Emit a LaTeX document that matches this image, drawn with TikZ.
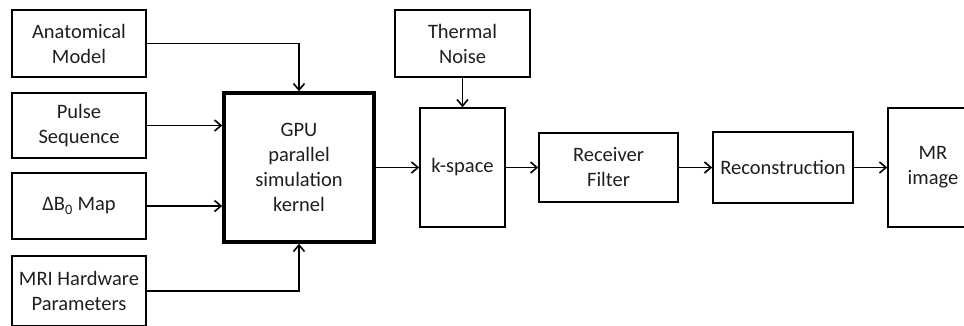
\documentclass[tikz,border=0pt]{standalone}
\usepackage{fontspec}
\setmainfont{Carlito}
\usetikzlibrary{arrows.meta}

\begin{document}
\begin{tikzpicture}[x=1pt,y=-1pt,font=\fontsize{20.5}{25}\selectfont,line width=1.6pt,
    blk/.style={draw,inner sep=0pt,align=center,text=black!88},
    >={Straight Barb[length=6.5pt,width=11pt]}]
  \useasboundingbox (0,0) rectangle (964,325);
  % inputs on the left
  \foreach \n/\y/\h/\txt in {anat/43.5/67/{Anatomical\\Model},
      pulse/125.5/65/{Pulse\\Sequence},
      dbz/206/66/{ΔB\textsubscript{0} Map},
      hw/291/70/{MRI Hardware\\Parameters}} {
    \node[blk,minimum width=134pt,minimum height=\h pt] (\n) at (79,\y) {\txt};
  }
  \node[blk,line width=3.5pt,minimum width=150pt,minimum height=149pt] (gpu) at (299,167.5)
    {GPU\\parallel\\simulation\\kernel};
  \node[blk,minimum width=135pt,minimum height=67pt] (noise) at (462.5,43.5) {Thermal\\Noise};
  \node[blk,minimum width=85pt,minimum height=119pt] (ks) at (462.5,167.5) {k-space};
  \node[blk,minimum width=139pt,minimum height=69pt] (rx) at (608.5,167.5) {Receiver\\Filter};
  \node[blk,minimum width=140pt,minimum height=71pt] (rec) at (783,167.5) {Reconstruction};
  \node[blk,minimum width=90pt,minimum height=119pt] (mr) at (933,167.5) {MR\\image};
  % connectors
  \draw[->] (anat.east) -| (gpu.north);
  \draw[->] (hw.east) -| (gpu.south);
  \draw[->] (pulse.east) -- (pulse.east -| gpu.west);
  \draw[->] (dbz.east) -- (dbz.east -| gpu.west);
  \draw[->] (noise) -- (ks);
  \foreach \a/\b in {gpu/ks,ks/rx,rx/rec,rec/mr}
    \draw[->] (\a) -- (\b);
\end{tikzpicture}
\end{document}
